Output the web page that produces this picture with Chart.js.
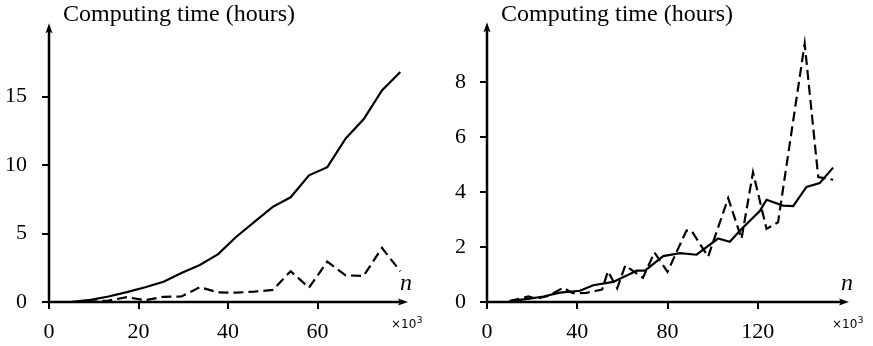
<!DOCTYPE html>
<html>
<head>
<meta charset="utf-8">
<script src="https://cdn.jsdelivr.net/npm/chart.js@4/dist/chart.umd.min.js"></script>
<style>
  html, body { margin: 0; padding: 0; background: #fff; }
  #wrap { position: relative; width: 873px; height: 346px; overflow: hidden; }
  canvas { position: absolute; top: 0; }
  #left { left: 0; }
  #right { left: 436px; }
</style>
</head>
<body>
<div id="wrap">
  <canvas id="left" width="436" height="346"></canvas>
  <canvas id="right" width="437" height="346"></canvas>
</div>
<script>
// ---- Left panel: n (thousands) and computing time (hours) ----
const nLeft       = [5.2, 9.3, 13.3, 17.4, 21.5, 25.6, 29.6, 33.7, 37.8, 41.8, 45.9, 50.0, 54.0, 58.1, 62.2, 66.3, 70.3, 74.4, 78.5];
const solidLeft   = [0.02, 0.15, 0.40, 0.72, 1.08, 1.48, 2.12, 2.70, 3.50, 4.75, 5.85, 6.95, 7.65, 9.25, 9.85, 11.95, 13.35, 15.45, 16.8];
const dashedLeft  = [0.00, 0.03, 0.10, 0.35, 0.14, 0.38, 0.40, 1.08, 0.70, 0.68, 0.76, 0.88, 2.25, 1.05, 2.95, 1.95, 1.90, 3.95, 2.25];
const xTicksLeft  = [0, 20, 40, 60];
const yTicksLeft  = [0, 5, 10, 15];

// ---- Right panel ----
const nRightSolid   = [10, 19, 25, 32.3, 41.2, 47.1, 55.9, 61.9, 66.3, 70, 78.1, 85.5, 92.9, 102.4, 107.6, 112.8, 120.9, 123.9, 131.2, 135.7, 141.6, 147.5, 153.4];
const solidRight    = [0.03, 0.12, 0.20, 0.34, 0.41, 0.61, 0.73, 0.96, 1.14, 1.14, 1.67, 1.78, 1.72, 2.31, 2.19, 2.66, 3.31, 3.72, 3.51, 3.49, 4.19, 4.33, 4.89];
const nRightDashed  = [10, 18.3, 22, 27, 33.8, 38, 44, 48, 51, 53.6, 57.7, 61.3, 69.1, 74.2, 80, 88.4, 90.6, 98, 106.9, 112.8, 117.9, 123.9, 129, 140.8, 146.8, 153.4];
const dashedRight   = [0.03, 0.20, 0.12, 0.22, 0.52, 0.32, 0.33, 0.40, 0.45, 1.12, 0.50, 1.33, 0.88, 1.80, 1.10, 2.60, 2.60, 1.65, 3.78, 2.30, 4.72, 2.66, 2.90, 9.40, 4.55, 4.45];
const xTicksRight   = [0, 40, 80, 120];
const yTicksRight   = [0, 2, 4, 6, 8];

const yTitle = 'Computing time (hours)';
const xName = 'n';
const serif = '"Liberation Serif", "DejaVu Serif", serif';

const pts = (xs, ys) => xs.map((x, i) => ({ x, y: ys[i] }));

// Axes with arrowheads, the y-axis caption, the variable name and the ×10³ multiplier
const axisDecor = {
  id: 'axisDecor',
  afterDraw(chart) {
    const { ctx, chartArea: a } = chart;
    ctx.save();
    ctx.strokeStyle = '#000';
    ctx.fillStyle = '#000';
    ctx.lineWidth = 2.5;
    ctx.lineCap = 'butt';
    // x-axis
    ctx.beginPath();
    ctx.moveTo(a.left - 1.25, a.bottom);
    ctx.lineTo(a.right - 6, a.bottom);
    ctx.stroke();
    ctx.beginPath();
    ctx.moveTo(a.right + 1, a.bottom);
    ctx.lineTo(a.right - 9, a.bottom - 3.5);
    ctx.lineTo(a.right - 7, a.bottom);
    ctx.lineTo(a.right - 9, a.bottom + 3.5);
    ctx.closePath();
    ctx.fill();
    // y-axis
    ctx.beginPath();
    ctx.moveTo(a.left, a.bottom + 1.25);
    ctx.lineTo(a.left, a.top + 2);
    ctx.stroke();
    ctx.beginPath();
    ctx.moveTo(a.left, a.top - 5);
    ctx.lineTo(a.left - 3.5, a.top + 5);
    ctx.lineTo(a.left, a.top + 3);
    ctx.lineTo(a.left + 3.5, a.top + 5);
    ctx.closePath();
    ctx.fill();

    // caption
    ctx.font = '24px ' + serif;
    ctx.textAlign = 'left';
    ctx.textBaseline = 'alphabetic';
    ctx.fillText(yTitle, a.left + 14, 21);

    // variable name
    ctx.font = 'italic 24px ' + serif;
    ctx.fillText(xName, a.right - 7, 290);

    // multiplier
    ctx.font = '12px "DejaVu Sans", sans-serif';
    const mx = a.right - 16;
    ctx.fillText('\u00d710', mx, 328);
    const w = ctx.measureText('\u00d710').width;
    ctx.font = '9px "DejaVu Sans", sans-serif';
    ctx.fillText('3', mx + w + 0.5, 323);
    ctx.restore();
  }
};

function makeChart(id, opts) {
  const tickFont = { family: serif, size: 22 };
  const grid = { display: true, drawOnChartArea: false, drawTicks: true, tickLength: 7, lineWidth: 2, color: '#000' };
  return new Chart(document.getElementById(id), {
    type: 'line',
    data: {
      datasets: [
        { data: opts.solid, borderColor: '#000', borderWidth: 2.2, pointRadius: 0, tension: 0, fill: false },
        { data: opts.dashed, borderColor: '#000', borderWidth: 2.2, borderDash: [10, 5], pointRadius: 0, tension: 0, fill: false }
      ]
    },
    options: {
      responsive: false,
      animation: false,
      events: [],
      layout: { padding: { top: 18, right: opts.padRight, left: 0, bottom: 0 } },
      plugins: { legend: { display: false }, tooltip: { enabled: false }, title: { display: false } },
      scales: {
        x: {
          type: 'linear', min: 0, max: opts.xMax,
          afterBuildTicks: s => { s.ticks = opts.xTicks.map(v => ({ value: v })); },
          afterFit: s => { s.height = 44; },
          ticks: { font: tickFont, color: '#000', padding: 10, maxRotation: 0, autoSkip: false },
          grid, border: { display: false }
        },
        y: {
          type: 'linear', min: 0, max: opts.yMax,
          afterBuildTicks: s => { s.ticks = opts.yTicks.map(v => ({ value: v })); },
          afterFit: s => { s.width = opts.yWidth; },
          ticks: { font: tickFont, color: '#000', padding: opts.yPad, autoSkip: false },
          grid, border: { display: false }
        }
      }
    },
    plugins: [axisDecor]
  });
}

makeChart('left', {
  solid: pts(nLeft, solidLeft), dashed: pts(nLeft, dashedLeft),
  xMax: 80, yMax: 20, xTicks: xTicksLeft, yTicks: yTicksLeft,
  yWidth: 49, yPad: 15, padRight: 29
});
makeChart('right', {
  solid: pts(nRightSolid, solidRight), dashed: pts(nRightDashed, dashedRight),
  xMax: 160, yMax: 10, xTicks: xTicksRight, yTicks: yTicksRight,
  yWidth: 51, yPad: 14, padRight: 25
});
</script>
</body>
</html>
